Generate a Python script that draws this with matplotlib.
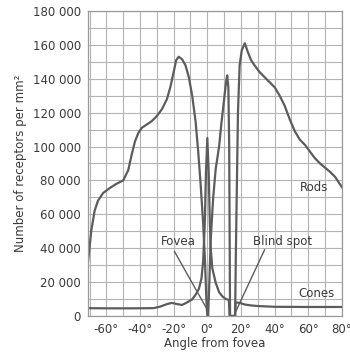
import matplotlib
matplotlib.use("Agg")
import matplotlib.pyplot as plt
from matplotlib.ticker import FuncFormatter, MultipleLocator

# ---- data ----
rod_angle = [-71, -69, -67, -65, -62, -58, -54, -50, -47, -45, -43, -41, -39, -36, -33, -30,
             -27, -24, -22, -20, -18.5, -17, -15, -13, -11, -9, -7, -5.5, -4, -2.5, -1.5,
             -0.5, 0, 0.5, 1.2, 2, 3.5, 5, 7, 8.5, 10, 11, 11.8, 12.5, 13, 13.3, 13.5,
             16.5, 17, 17.6, 18.2, 19.2, 20.5, 22.3, 24, 26, 28, 31, 34, 37, 40, 43, 46,
             49, 52, 55, 58, 61, 64, 67, 70, 73, 76, 78, 80]
rod_density = [31000, 50000, 62000, 68000, 72500, 75500, 78000, 80000, 86000, 95000, 103000,
               108000, 111000, 113000, 115000, 118000, 122000, 128000, 135000, 144000, 151000,
               153000, 151500, 148000, 141000, 130000, 115000, 98000, 78000, 55000, 35000,
               8000, 0, 0, 20000, 45000, 70000, 87000, 100000, 115000, 128000, 137000, 142000,
               135000, 100000, 40000, 0, 0, 40000, 80000, 120000, 148000, 157000, 161000,
               156000, 151000, 148000, 144000, 141000, 138000, 135000, 130000, 124000, 116000,
               109000, 104000, 101000, 97000, 93000, 90000, 87500, 85000, 82000, 79000, 76000]

cone_angle = [-71, -60, -45, -32, -28, -24, -21, -18, -15, -12, -9, -7, -5, -3.5, -2.5, -1.5,
              -0.8, 0, 0.8, 1.5, 2, 3, 5, 7, 9, 11, 12.8, 13.2, 16.5, 16.8, 19.4, 22, 26,
              29.4, 40, 60, 80]
cone_density = [4600, 4500, 4500, 4600, 5500, 7000, 7700, 7000, 6500, 8000, 9800, 12500,
                16000, 22000, 32000, 55000, 85000, 105000, 85000, 55000, 40000, 28000, 19500,
                14000, 11500, 10000, 9400, 0, 0, 8000, 7700, 6800, 6200, 5900, 5400, 5300, 5300]

y_ticks = [0, 20000, 40000, 60000, 80000, 100000, 120000, 140000, 160000, 180000]
x_ticks = [-60, -40, -20, 0, 20, 40, 60, 80]

curve_col = "#5c5c5c"
text_col = "#3a3a3a"
grid_col = "#b4b4b4"

fig = plt.figure(figsize=(3.5, 3.55), dpi=100)
ax = fig.add_axes([0.251, 0.110, 0.726, 0.859])

ax.plot(rod_angle, rod_density, color=curve_col, lw=1.6, solid_joinstyle="round")
ax.plot(cone_angle, cone_density, color=curve_col, lw=1.6, solid_joinstyle="round")

ax.set_xlim(-71, 80)
ax.set_ylim(0, 180000)
ax.set_xticks(x_ticks)
ax.set_yticks(y_ticks)
ax.xaxis.set_minor_locator(MultipleLocator(10))
ax.yaxis.set_minor_locator(MultipleLocator(10000))
ax.grid(True, which="both", color=grid_col, lw=0.8)
ax.set_axisbelow(True)

ax.xaxis.set_major_formatter(FuncFormatter(lambda v, p: f"{int(v)}°"))
ax.yaxis.set_major_formatter(FuncFormatter(lambda v, p: f"{int(v):,}".replace(",", " ")))
ax.tick_params(which="both", length=0, labelsize=8.5, labelcolor=text_col)
ax.tick_params(axis="x", pad=5)
ax.tick_params(axis="y", pad=5)
for s in ax.spines.values():
    s.set_color("#9a9a9a")
    s.set_linewidth(0.9)

ax.set_ylabel("Number of receptors per mm²", fontsize=8.5, color=text_col, labelpad=4)
ax.set_xlabel("Angle from fovea", fontsize=8.5, color=text_col, labelpad=1)

ax.text(63.5, 76000, "Rods", fontsize=8.5, color=text_col, ha="center", va="center")
ax.text(65, 13500, "Cones", fontsize=8.5, color=text_col, ha="center", va="center")
ax.text(-17, 44000, "Fovea", fontsize=8.5, color=text_col, ha="center", va="center")
ax.text(45, 44000, "Blind spot", fontsize=8.5, color=text_col, ha="center", va="center")
ax.plot([-19.5, -0.6], [38000, 4700], color=curve_col, lw=1.0)
ax.plot([34, 16.5], [39000, 1800], color=curve_col, lw=1.0)

fig.savefig("out.png", dpi=100)
